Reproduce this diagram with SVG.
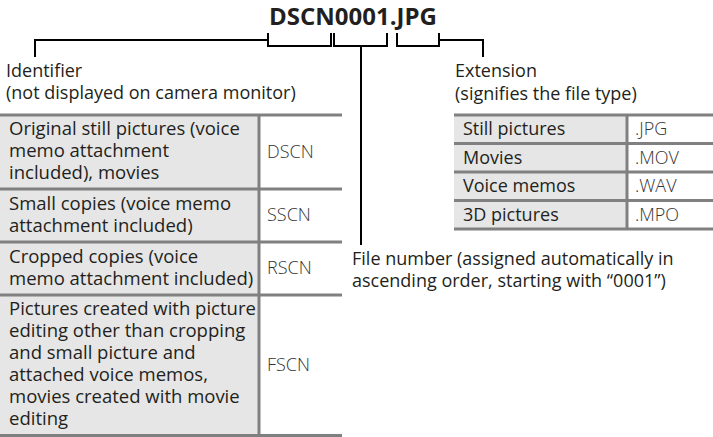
<svg xmlns="http://www.w3.org/2000/svg" width="713" height="437" viewBox="0 0 713 437">
<style>
text{font-family:"Open Sans","Noto Sans","Liberation Sans",sans-serif;font-size:18px;fill:#231f20}
.title{font-size:24px;font-weight:bold}
.lt text{font-size:18.5px}
.code{font-weight:300;fill:#333}
.lt text.code{font-size:18px}
.cellL{fill:#e6e6e6}
.grid{stroke:#808080;stroke-width:3;fill:none}
.conn{stroke:#000;stroke-width:2;fill:none}
</style>
<rect width="713" height="437" fill="#fff"/>
<g id="title"><text class="title" x="353" y="25" text-anchor="middle">DSCN0001.JPG</text></g>
<g id="connectors">
<path class="conn" d="M35,57 V40 H268"/>
<path class="conn" d="M268,33 V46 H331 V33"/>
<path class="conn" d="M334,33 V46 H387 V33"/>
<path class="conn" d="M361,46 V245"/>
<path class="conn" d="M397,33 V46 H439 V33"/>
<path class="conn" d="M439,40 H483 V57"/>
</g>
<g id="identifier-label">
<text x="6" y="77">Identifier</text>
<text x="6" y="99">(not displayed on camera monitor)</text>
</g>
<g id="extension-label">
<text x="455" y="77">Extension</text>
<text x="455" y="100">(signifies the file type)</text>
</g>
<g id="file-number-label">
<text x="352" y="265">File number (assigned automatically in</text>
<text x="352" y="287">ascending order, starting with “0001”)</text>
</g>
<g id="identifier-table" class="lt">
<rect class="cellL" x="0" y="115" width="259" height="321"/>
<path class="grid" d="M0,115 H342 M0,189 H342 M0,242 H342 M0,295 H342 M0,435.5 H342 M259,115 V436"/>
<text x="9" y="135">Original still pictures (voice</text>
<text x="9" y="157">memo attachment</text>
<text x="9" y="179">included), movies</text>
<text class="code" x="267" y="158">DSCN</text>
<text x="9" y="210">Small copies (voice memo</text>
<text x="9" y="232">attachment included)</text>
<text class="code" x="267" y="221">SSCN</text>
<text x="9" y="263">Cropped copies (voice</text>
<text x="9" y="285">memo attachment included)</text>
<text class="code" x="267" y="274">RSCN</text>
<text x="9" y="315">Pictures created with picture</text>
<text x="9" y="337">editing other than cropping</text>
<text x="9" y="359">and small picture and</text>
<text x="9" y="381">attached voice memos,</text>
<text x="9" y="403">movies created with movie</text>
<text x="9" y="425">editing</text>
<text class="code" x="267" y="371">FSCN</text>
</g>
<g id="extension-table">
<rect class="cellL" x="454" y="115" width="173" height="114"/>
<path class="grid" d="M454,115 H713 M454,143.5 H713 M454,172 H713 M454,200.5 H713 M454,229 H713 M627,115 V229"/>
<text x="463" y="135">Still pictures</text>
<text class="code" x="635" y="135">.JPG</text>
<text x="463" y="164">Movies</text>
<text class="code" x="635" y="164">.MOV</text>
<text x="463" y="192">Voice memos</text>
<text class="code" x="635" y="192">.WAV</text>
<text x="463" y="221">3D pictures</text>
<text class="code" x="635" y="221">.MPO</text>
</g>
</svg>
